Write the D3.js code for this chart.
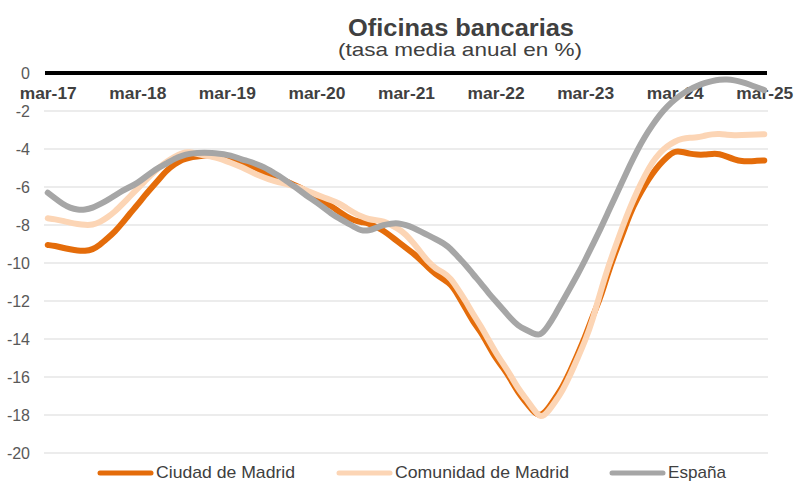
<!DOCTYPE html>
<html><head><meta charset="utf-8">
<script src="https://cdn.jsdelivr.net/npm/d3@7"></script>
<style>body{margin:0;background:#fff}svg{display:block}</style>
</head><body>
<svg id="c" width="795" height="482"></svg>
<script>
const nMonths = 97;
const tickLabels = ["mar-17","mar-18","mar-19","mar-20","mar-21","mar-22","mar-23","mar-24","mar-25"];
const yTicks = [0,-2,-4,-6,-8,-10,-12,-14,-16,-18,-20];
const seriesNames = ["Ciudad de Madrid","Comunidad de Madrid","España"];
const ciudad = [-9.05,-9.1,-9.2,-9.28,-9.35,-9.37,-9.3,-9.05,-8.7,-8.35,-7.9,-7.4,
 -6.95,-6.45,-6.0,-5.55,-5.1,-4.8,-4.55,-4.45,-4.4,-4.35,-4.3,-4.3,
 -4.35,-4.5,-4.7,-4.85,-5.0,-5.25,-5.4,-5.55,-5.7,-5.9,-6.05,-6.35,
 -6.6,-6.8,-7.0,-7.3,-7.55,-7.75,-7.85,-7.9,-8.1,-8.3,-8.6,-8.9,
 -9.2,-9.5,-9.85,-10.25,-10.6,-10.85,-11.1,-11.7,-12.4,-13.1,-13.6,-14.3,
 -15.0,-15.5,-16.1,-16.8,-17.3,-17.8,-18.1,-17.7,-17.1,-16.5,-15.7,-14.8,
 -13.9,-12.8,-11.9,-10.6,-9.5,-8.5,-7.4,-6.6,-5.9,-5.3,-4.8,-4.4,
 -4.1,-4.15,-4.25,-4.3,-4.3,-4.25,-4.25,-4.4,-4.55,-4.65,-4.65,-4.62,-4.6];
const comunidad = [-7.65,-7.7,-7.78,-7.88,-7.95,-8.0,-8.0,-7.85,-7.6,-7.3,-6.9,-6.5,
 -6.1,-5.7,-5.3,-4.95,-4.65,-4.4,-4.2,-4.15,-4.25,-4.35,-4.4,-4.5,
 -4.65,-4.8,-4.95,-5.15,-5.35,-5.5,-5.65,-5.75,-5.85,-5.95,-6.05,-6.25,
 -6.4,-6.55,-6.7,-6.85,-7.1,-7.35,-7.55,-7.7,-7.75,-7.8,-8.0,-8.2,
 -8.5,-8.95,-9.45,-9.95,-10.3,-10.5,-10.8,-11.4,-12.0,-12.7,-13.3,-14.0,
 -14.7,-15.3,-15.9,-16.6,-17.1,-17.65,-18.2,-17.85,-17.3,-16.7,-15.9,-15.0,
 -14.1,-13.0,-11.6,-10.3,-9.2,-8.1,-7.1,-6.2,-5.4,-4.7,-4.2,-3.85,
 -3.6,-3.45,-3.4,-3.4,-3.3,-3.22,-3.2,-3.25,-3.28,-3.27,-3.25,-3.23,-3.22];
const espana = [-6.3,-6.6,-6.9,-7.1,-7.2,-7.2,-7.1,-6.9,-6.7,-6.45,-6.2,-6.0,
 -5.8,-5.5,-5.2,-4.95,-4.75,-4.5,-4.35,-4.25,-4.2,-4.2,-4.2,-4.25,
 -4.3,-4.4,-4.55,-4.65,-4.8,-4.95,-5.2,-5.4,-5.7,-5.95,-6.25,-6.55,
 -6.8,-7.1,-7.4,-7.65,-7.85,-8.1,-8.3,-8.3,-8.15,-8.0,-7.92,-7.9,
 -8.0,-8.15,-8.35,-8.55,-8.75,-8.95,-9.25,-9.7,-10.1,-10.6,-11.05,-11.55,
 -12.0,-12.45,-12.9,-13.3,-13.5,-13.7,-13.85,-13.35,-12.7,-12.0,-11.3,-10.6,
 -9.85,-9.05,-8.25,-7.4,-6.55,-5.7,-4.85,-4.05,-3.35,-2.75,-2.2,-1.75,
 -1.4,-1.1,-0.87,-0.68,-0.52,-0.42,-0.35,-0.34,-0.38,-0.47,-0.6,-0.75,-0.9];
const colors = ["#E46C0A","#FCD5B5","#A6A6A6"];

const months = d3.range(nMonths);
const svg = d3.select("#c");
const x = d3.scalePoint().domain(months).range([44,768]).padding(0.5);
const y = d3.scaleLinear().domain([-20,0]).range([453,73]);
const font = "Liberation Sans, Arial, sans-serif";

// gridlines
svg.append("g").selectAll("line").data(yTicks.filter(d=>d!==0)).join("line")
  .attr("x1",44).attr("x2",768).attr("y1",d=>y(d)).attr("y2",d=>y(d))
  .attr("stroke","#d9d9d9").attr("stroke-width",1);

// y axis labels
const yAxis = d3.axisLeft(y).tickValues(yTicks).tickSize(0).tickPadding(0).tickFormat(d=>String(d));
const ya = svg.append("g").attr("transform","translate(30,0)").call(yAxis);
ya.select(".domain").remove();
ya.selectAll("text").attr("font-family",font)
  .attr("font-size",16).attr("fill","#595959").attr("dy","0.35em");

// zero line
svg.append("line").attr("x1",45).attr("x2",767).attr("y1",y(0)).attr("y2",y(0))
  .attr("stroke","#000").attr("stroke-width",4);

// x tick labels
const xAxis = d3.axisTop(x).tickValues(d3.range(0,nMonths,12)).tickSize(0)
  .tickFormat(d=>tickLabels[d/12]);
const xa = svg.append("g").attr("transform","translate(0,99)").call(xAxis);
xa.select(".domain").remove();
xa.selectAll("text").attr("font-family",font)
  .attr("font-size",16).attr("font-weight","bold").attr("fill","#404040")
  .attr("dy",0).attr("y",0).attr("textLength",57).attr("lengthAdjust","spacingAndGlyphs");

// lines
const line = d3.line().x((d,i)=>x(i)).y(d=>y(d)).curve(d3.curveBasis);
[ciudad, comunidad, espana].forEach((s,k)=>{
  svg.append("path").datum(s).attr("d",line).attr("fill","none")
    .attr("stroke",colors[k]).attr("stroke-width",6)
    .attr("stroke-linecap","round").attr("stroke-linejoin","round");
});

// title
svg.append("text").attr("x",461).attr("y",36).attr("text-anchor","middle")
  .attr("font-family",font).attr("font-size",23)
  .attr("font-weight","bold").attr("fill","#404040")
  .attr("textLength",226).attr("lengthAdjust","spacingAndGlyphs").text("Oficinas bancarias");
svg.append("text").attr("x",460).attr("y",56).attr("text-anchor","middle")
  .attr("font-family",font).attr("font-size",19)
  .attr("fill","#404040")
  .attr("textLength",244).attr("lengthAdjust","spacingAndGlyphs").text("(tasa media anual en %)");

// legend
const legX = [98,337,610], legTW = [139,174,58];
seriesNames.forEach((n,k)=>{
  svg.append("line").attr("x1",legX[k]+2).attr("x2",legX[k]+53).attr("y1",473).attr("y2",473)
    .attr("stroke",colors[k]).attr("stroke-width",5).attr("stroke-linecap","round");
  svg.append("text").attr("x",legX[k]+58).attr("y",478)
    .attr("font-family",font).attr("font-size",17)
    .attr("fill","#404040").attr("textLength",legTW[k]).attr("lengthAdjust","spacingAndGlyphs").text(n);
});
</script>
</body></html>
